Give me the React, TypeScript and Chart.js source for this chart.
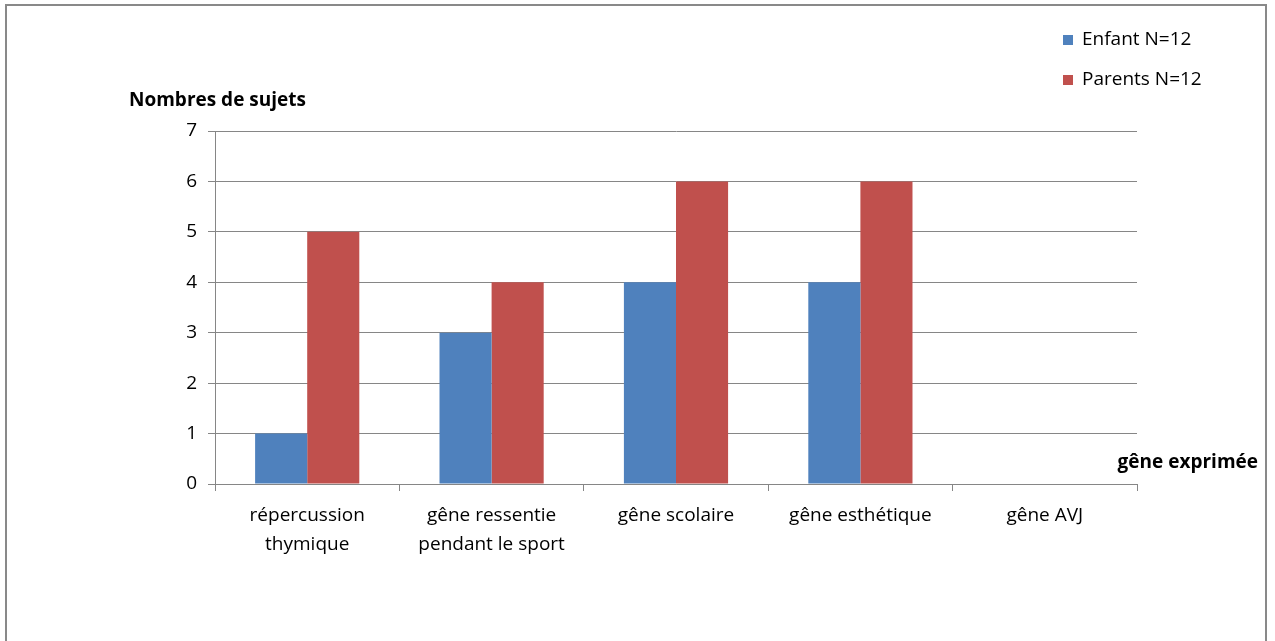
import React, { useEffect, useRef } from "react";
import { Chart, registerables } from "chart.js";

Chart.register(...registerables);

const categories: string[][] = [
  ["répercussion", "thymique"],
  ["gêne ressentie", "pendant le sport"],
  ["gêne scolaire"],
  ["gêne esthétique"],
  ["gêne AVJ"],
];
const enfantValues = [1, 3, 4, 4, 0];
const parentsValues = [5, 4, 6, 6, 0];
const seriesNames = ["Enfant N=12", "Parents N=12"];
const seriesColors = ["#4F81BD", "#C0504D"];
const yTitle = "Nombres de sujets";
const xTitle = "gêne exprimée";

const FONT = "'Open Sans', 'Liberation Sans', sans-serif";
const GRID = "#868686";

export default function App() {
  const ref = useRef<HTMLCanvasElement | null>(null);
  useEffect(() => {
    if (!ref.current) return;
    const overlay = {
      id: "overlay",
      afterDraw(chart: any) {
        const ctx = chart.ctx as CanvasRenderingContext2D;
        ctx.save();
        ctx.fillStyle = "#000";
        ctx.textBaseline = "middle";
        ctx.font = `bold 19px ${FONT}`;
        ctx.textAlign = "left";
        ctx.fillText(yTitle, 129, 101);
        ctx.textAlign = "right";
        ctx.fillText(xTitle, 1258, 463);
        ctx.textAlign = "left";
        ctx.font = `19px ${FONT}`;
        seriesNames.forEach((n, i) => {
          const cy = 40 + i * 40;
          ctx.fillStyle = seriesColors[i];
          ctx.fillRect(1063, cy - 5, 10, 10);
          ctx.fillStyle = "#000";
          ctx.fillText(n, 1082, cy);
        });
        ctx.restore();
      },
    };
    const chart = new Chart(ref.current, {
      type: "bar",
      data: {
        labels: categories as any,
        datasets: [
          {
            label: seriesNames[0],
            data: enfantValues,
            backgroundColor: seriesColors[0],
            categoryPercentage: 0.565,
            barPercentage: 1,
          },
          {
            label: seriesNames[1],
            data: parentsValues,
            backgroundColor: seriesColors[1],
            categoryPercentage: 0.565,
            barPercentage: 1,
          },
        ],
      },
      options: {
        responsive: false,
        animation: false,
        devicePixelRatio: 1,
        layout: { padding: { left: 0, right: 138, top: 131, bottom: 0 } },
        plugins: { legend: { display: false }, tooltip: { enabled: false } },
        scales: {
          x: {
            afterFit: (s: any) => {
              s.height = 157;
            },
            grid: {
              offset: true,
              drawOnChartArea: false,
              drawTicks: true,
              tickLength: 7,
              color: GRID,
            },
            border: { color: GRID },
            ticks: {
              color: "#000",
              font: { family: FONT, size: 19, lineHeight: 1.53 },
              padding: 10,
              maxRotation: 0,
              autoSkip: false,
            },
          },
          y: {
            min: 0,
            max: 7,
            afterFit: (s: any) => {
              s.width = 215;
            },
            grid: { color: GRID, tickLength: 7 },
            border: { color: GRID },
            ticks: {
              stepSize: 1,
              color: "#000",
              padding: 11,
              font: { family: FONT, size: 19 },
            },
          },
        },
      },
      plugins: [overlay],
    });
    return () => chart.destroy();
  }, []);
  return (
    <div style={{ position: "absolute", left: 0, top: 0, width: 1275, height: 641, background: "#fff", overflow: "hidden" }}>
      <div
        style={{
          position: "absolute",
          left: 5,
          top: 4,
          width: 1262,
          height: 700,
          border: "2px solid #898989",
          boxSizing: "border-box",
        }}
      />
      <canvas ref={ref} width={1275} height={641} style={{ position: "absolute", left: 0, top: 0 }} />
    </div>
  );
}
